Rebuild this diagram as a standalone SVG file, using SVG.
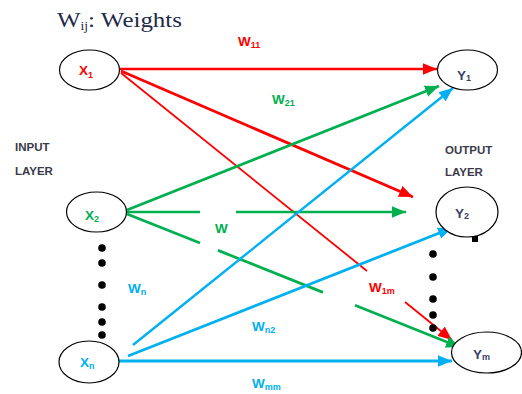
<svg xmlns="http://www.w3.org/2000/svg" width="522" height="394" viewBox="0 0 522 394">
  <style>
    .node { fill: #ffffff; stroke: #000000; stroke-width: 1.2; }
    .lbl { font-family: "Liberation Sans", Arial, sans-serif; font-weight: bold; font-size: 13.5px; }
    .sub { font-size: 9px; }
    .layer { font-family: "Liberation Sans", Arial, sans-serif; font-weight: bold; font-size: 11.5px; fill: #3a3a4a; }
    .red { stroke: #ff0000; fill: none; }
    .green { stroke: #00b050; fill: none; }
    .blue { stroke: #00b0f0; fill: none; }
    .dot { fill: #000000; }
  </style>
  <defs>
    <marker id="arr-red" viewBox="0 0 12 10" refX="12" refY="5" markerWidth="14" markerHeight="12" markerUnits="userSpaceOnUse" orient="auto">
      <path d="M0,0 L12,5 L0,10 z" fill="#ff0000"/>
    </marker>
    <marker id="arr-green" viewBox="0 0 12 10" refX="12" refY="5" markerWidth="14" markerHeight="12" markerUnits="userSpaceOnUse" orient="auto">
      <path d="M0,0 L12,5 L0,10 z" fill="#00b050"/>
    </marker>
    <marker id="arr-blue" viewBox="0 0 12 10" refX="12" refY="5" markerWidth="14" markerHeight="12" markerUnits="userSpaceOnUse" orient="auto">
      <path d="M0,0 L12,5 L0,10 z" fill="#00b0f0"/>
    </marker>
  </defs>

  <!-- title -->
  <text x="57" y="27" font-family="Liberation Serif, 'Times New Roman', serif" font-size="22" fill="#1f2a4a" textLength="125" lengthAdjust="spacingAndGlyphs">W<tspan font-size="12" dy="3">ij</tspan><tspan dy="-3">: Weights</tspan></text>

  <!-- layer captions -->
  <text class="layer" x="15" y="151">INPUT</text>
  <text class="layer" x="15" y="175">LAYER</text>
  <text class="layer" x="445" y="154">OUTPUT</text>
  <text class="layer" x="445" y="176">LAYER</text>

  <!-- connectors -->
  <g id="connectors">
    <!-- from X1 -->
    <path class="red" stroke-width="2.4" d="M120,69 L437,69" marker-end="url(#arr-red)"/>
    <path class="red" stroke-width="2.8" d="M121,71 L413,197" marker-end="url(#arr-red)"/>
    <path class="red" stroke-width="1.8" d="M121,73 L367,271"/>
    <path class="red" stroke-width="1.8" d="M405,302 L452,340" marker-end="url(#arr-red)"/>
    <!-- from X2 -->
    <path class="green" stroke-width="2.8" d="M127,210 L439,86" marker-end="url(#arr-green)"/>
    <path class="green" stroke-width="2.4" d="M127,212 L200,212"/>
    <path class="green" stroke-width="2.4" d="M236,212 L406,212" marker-end="url(#arr-green)"/>
    <path class="green" stroke-width="2.8" d="M127,214 L200,243"/>
    <path class="green" stroke-width="2.8" d="M218,250.4 L323,292.4"/>
    <path class="green" stroke-width="2.8" d="M355,305.2 L460,347.2" marker-end="url(#arr-green)"/>
    <!-- from Xn -->
    <path class="blue" stroke-width="2.4" d="M133,345 L453,88" marker-end="url(#arr-blue)"/>
    <path class="blue" stroke-width="2.8" d="M128,356 L452,228" marker-end="url(#arr-blue)"/>
    <path class="blue" stroke-width="2.8" d="M119,361 L452,361" marker-end="url(#arr-blue)"/>
  </g>

  <!-- ellipsis dots between input nodes -->
  <g id="input-dots">
    <circle class="dot" cx="102" cy="248" r="3.8"/>
    <circle class="dot" cx="102" cy="263" r="3.8"/>
    <circle class="dot" cx="102" cy="285" r="3.8"/>
    <circle class="dot" cx="102" cy="307" r="3.8"/>
    <circle class="dot" cx="102" cy="322" r="3.8"/>
    <circle class="dot" cx="102" cy="335" r="3.8"/>
  </g>
  <!-- ellipsis dots between output nodes -->
  <g id="output-dots">
    <circle class="dot" cx="433" cy="254" r="3.8"/>
    <circle class="dot" cx="433" cy="277" r="3.8"/>
    <circle class="dot" cx="433" cy="299" r="3.8"/>
    <circle class="dot" cx="433" cy="315" r="3.8"/>
    <circle class="dot" cx="433" cy="328" r="3.8"/>
  </g>

  <!-- weight labels -->
  <g id="weights">
    <text class="lbl" x="238" y="46" fill="#ff0000">W<tspan class="sub" dy="2">11</tspan></text>
    <text class="lbl" x="272" y="104" fill="#00b050">W<tspan class="sub" dy="2">21</tspan></text>
    <text class="lbl" x="215" y="233" fill="#00b050">W</text>
    <text class="lbl" x="128" y="293" fill="#00b0f0">W<tspan class="sub" dy="2">n</tspan></text>
    <text class="lbl" x="369" y="292" fill="#ff0000">W<tspan class="sub" dy="2">1m</tspan></text>
    <text class="lbl" x="252" y="331" fill="#00b0f0">W<tspan class="sub" dy="2">n2</tspan></text>
    <text class="lbl" x="252" y="388" fill="#00b0f0">W<tspan class="sub" dy="2">mm</tspan></text>
  </g>

  <!-- input nodes -->
  <g id="x1">
    <ellipse class="node" cx="89.5" cy="70" rx="30" ry="20"/>
    <text class="lbl" x="79" y="75" fill="#ff0000">X<tspan class="sub" dy="3">1</tspan></text>
  </g>
  <g id="x2">
    <ellipse class="node" cx="96.5" cy="212" rx="30" ry="20"/>
    <text class="lbl" x="85" y="220" fill="#00b050">X<tspan class="sub" dy="2">2</tspan></text>
  </g>
  <g id="xn">
    <ellipse class="node" cx="89" cy="362" rx="30" ry="21"/>
    <text class="lbl" x="80" y="367" fill="#00b0f0">X<tspan class="sub" dy="2">n</tspan></text>
  </g>

  <!-- output nodes -->
  <g id="y1">
    <ellipse class="node" cx="467.5" cy="70" rx="30" ry="20"/>
    <text class="lbl" x="457" y="80" fill="#3a3f6a">Y<tspan class="sub" dy="1">1</tspan></text>
  </g>
  <g id="y2">
    <ellipse class="node" cx="467" cy="212" rx="31" ry="25"/>
    <rect x="472" y="236" width="6" height="6" fill="#000000"/>
    <text class="lbl" x="455" y="218" fill="#3a3f6a">Y<tspan class="sub" dy="1">2</tspan></text>
  </g>
  <g id="ym">
    <ellipse class="node" cx="486.5" cy="352.5" rx="35" ry="20.5"/>
    <text class="lbl" x="473" y="359" fill="#3a3f6a">Y<tspan class="sub" dy="1">m</tspan></text>
  </g>
</svg>
